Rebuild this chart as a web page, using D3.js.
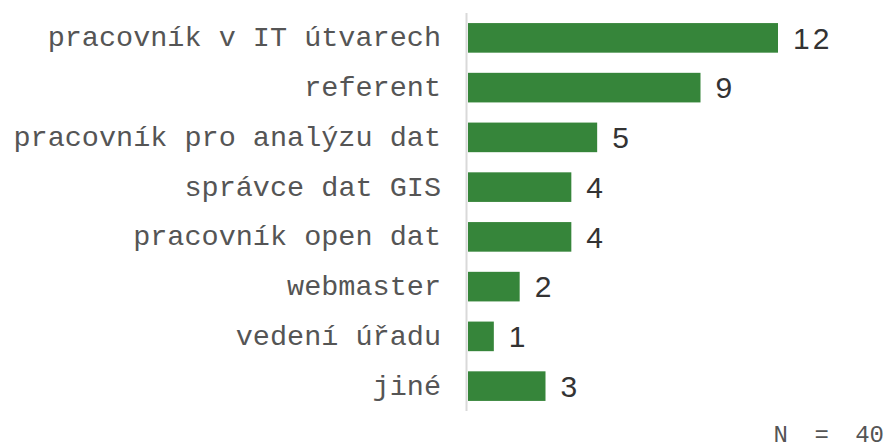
<!DOCTYPE html>
<html>
<head>
<meta charset="utf-8">
<script src="https://cdn.jsdelivr.net/npm/d3@7"></script>
<style>
  body { margin: 0; background: #fff; }
</style>
</head>
<body>
<svg id="chart" width="886" height="448"></svg>
<script>
// categories and counts, top to bottom
const categories = ['pracovník v IT útvarech', 'referent', 'pracovník pro analýzu dat', 'správce dat GIS',
                    'pracovník open dat', 'webmaster', 'vedení úřadu', 'jiné'];
const counts = [12, 9, 5, 4, 4, 2, 1, 3];
const totalN = 40;

const svg = d3.select('#chart');
const data = categories.map((c, i) => ({ cat: c, n: counts[i] }));

// scales
const y = d3.scaleBand().domain(categories).range([13, 411])
            .paddingInner(0.405).paddingOuter(0.2025);
const x = d3.scaleLinear().domain([0, 12]).range([468, 778]);

// bars
svg.selectAll('rect.bar')
   .data(data)
   .enter().append('rect')
   .attr('class', 'bar')
   .attr('x', x(0))
   .attr('y', d => y(d.cat))
   .attr('width', d => x(d.n) - x(0))
   .attr('height', y.bandwidth())
   .style('fill', '#36853a');

// vertical axis line
svg.append('line')
   .attr('x1', 466.5).attr('x2', 466.5)
   .attr('y1', y.range()[0]).attr('y2', y.range()[1])
   .style('stroke', '#d9d9d9')
   .style('stroke-width', 2);

// category labels
svg.selectAll('text.cat')
   .data(data)
   .enter().append('text')
   .attr('class', 'cat')
   .attr('x', 441)
   .attr('y', d => y(d.cat) + y.bandwidth() / 2)
   .attr('dy', '0.3em')
   .style('text-anchor', 'end')
   .style('font-family', '"Liberation Mono", monospace')
   .style('font-size', '28.5px')
   .style('fill', '#555')
   .text(d => d.cat);

// value labels
svg.selectAll('text.val')
   .data(data)
   .enter().append('text')
   .attr('class', 'val')
   .attr('x', d => x(d.n) + 15)
   .attr('y', d => y(d.cat) + y.bandwidth() / 2)
   .attr('dy', '0.36em')
   .style('font-family', '"Liberation Sans", Arial, sans-serif')
   .style('font-size', '30px')
   .style('letter-spacing', '3px')
   .style('fill', '#333')
   .text(d => d.n);

// N note
svg.append('text')
   .attr('x', 884)
   .attr('y', 442)
   .style('text-anchor', 'end')
   .style('font-family', '"Liberation Mono", monospace')
   .style('font-size', '24px')
   .style('word-spacing', '12px')
   .style('fill', '#555')
   .text('N = ' + totalN);
</script>
</body>
</html>
